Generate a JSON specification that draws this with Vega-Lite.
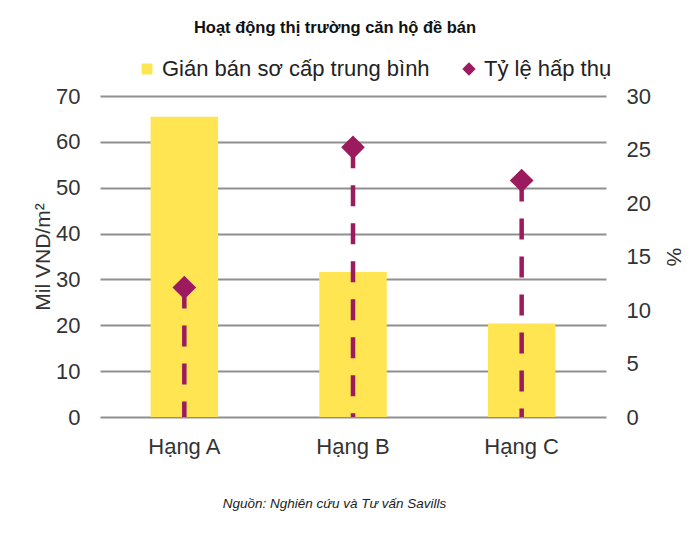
{
  "$schema": "https://vega.github.io/schema/vega-lite/v6.json",
  "width": 506,
  "height": 321,
  "autosize": "none",
  "padding": {"left": 100, "top": 96, "right": 92, "bottom": 124},
  "background": "white",
  "title": {
    "text": "Hoạt động thị trường căn hộ đề bán",
    "font": "Liberation Sans",
    "fontSize": 16.5,
    "fontWeight": "bold",
    "color": "#111111",
    "anchor": "middle",
    "dx": -18,
    "offset": 22
  },
  "data": {
    "values": [
      {"hang": "Hạng A", "gia": 65.5, "hapthu": 12.1},
      {"hang": "Hạng B", "gia": 31.6, "hapthu": 25.2},
      {"hang": "Hạng C", "gia": 20.4, "hapthu": 22.1}
    ]
  },
  "encoding": {
    "x": {
      "field": "hang",
      "type": "nominal",
      "sort": null,
      "scale": {"paddingInner": 0.6, "paddingOuter": 0.3},
      "axis": {
        "title": "Nguồn: Nghiên cứu và Tư vấn Savills",
        "titleFont": "Liberation Sans",
        "titleFontSize": 13.5,
        "titleFontStyle": "italic",
        "titleFontWeight": "normal",
        "titleColor": "#222222",
        "titleX": 234,
        "titlePadding": 39,
        "labelAngle": 0,
        "labelFont": "Liberation Sans",
        "labelFontSize": 22,
        "labelColor": "#333333",
        "labelPadding": 19,
        "ticks": false,
        "domain": false,
        "grid": false
      }
    }
  },
  "layer": [
    {
      "mark": {"type": "bar", "color": "#FFE552"},
      "encoding": {
        "y": {
          "field": "gia",
          "type": "quantitative",
          "scale": {"domain": [0, 70]},
          "axis": {
            "title": "Mil VND/m²",
            "titleFont": "Liberation Sans",
            "titleFontSize": 21,
            "titleFontWeight": "normal",
            "titleColor": "#333333",
            "titlePadding": 2,
            "values": [0, 10, 20, 30, 40, 50, 60, 70],
            "labelFont": "Liberation Sans",
            "labelFontSize": 22,
            "labelColor": "#333333",
            "labelPadding": 20,
            "ticks": false,
            "domain": false,
            "grid": true,
            "gridColor": "#8f8f8f",
            "gridWidth": 2
          }
        },
        "color": {
          "datum": "Gián bán sơ cấp trung bình",
          "scale": {
            "domain": ["Gián bán sơ cấp trung bình", "Tỷ lệ hấp thụ"],
            "range": ["#FFE552", "#9C1B5F"]
          },
          "legend": {
            "title": null,
            "orient": "none",
            "direction": "horizontal",
            "legendX": 36,
            "legendY": -38,
            "labelFont": "Liberation Sans",
            "labelFontSize": 22,
            "labelColor": "#222222",
            "labelLimit": 0,
            "labelOffset": 4,
            "columnPadding": 28,
            "symbolSize": 140,
            "symbolStrokeWidth": 0,
            "encode": {
              "symbols": {
                "update": {
                  "shape": {"signal": "datum.value == 'Tỷ lệ hấp thụ' ? 'diamond' : 'square'"},
                  "size": {"signal": "datum.value == 'Tỷ lệ hấp thụ' ? 180 : 120"}
                }
              }
            }
          }
        }
      }
    },
    {
      "layer": [
        {
          "mark": {"type": "rule", "color": "#9C1B5F", "strokeWidth": 4.5, "strokeDash": [21, 17]},
          "encoding": {
            "y": {"field": "hapthu", "type": "quantitative"},
            "y2": {"datum": 0}
          }
        },
        {
          "mark": {"type": "point", "shape": "diamond", "filled": true, "opacity": 1, "size": 560},
          "encoding": {
            "y": {"field": "hapthu", "type": "quantitative"},
            "color": {"datum": "Tỷ lệ hấp thụ"}
          }
        }
      ],
      "encoding": {
        "y": {
          "type": "quantitative",
          "scale": {"domain": [0, 30]},
          "axis": {
            "orient": "right",
            "title": "%",
            "titleFont": "Liberation Sans",
            "titleFontSize": 21,
            "titleFontWeight": "normal",
            "titleColor": "#333333",
            "titlePadding": 12,
            "values": [0, 5, 10, 15, 20, 25, 30],
            "labelFont": "Liberation Sans",
            "labelFontSize": 22,
            "labelColor": "#333333",
            "labelPadding": 20,
            "ticks": false,
            "domain": false,
            "grid": false
          }
        }
      }
    }
  ],
  "resolve": {"scale": {"y": "independent"}},
  "config": {
    "view": {"stroke": null}
  }
}
